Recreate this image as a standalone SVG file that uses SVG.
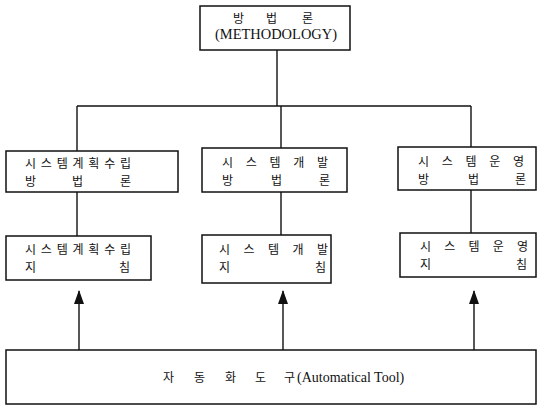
<svg xmlns="http://www.w3.org/2000/svg" width="543" height="409" viewBox="0 0 543 409">
<defs>
<style>
.box{fill:#fff;stroke:#111;stroke-width:1.5}
.ln{stroke:#111;stroke-width:1.4;fill:none}
.ko{font-family:"Noto Sans CJK KR",sans-serif;font-size:12px;fill:#111}
.en{font-family:"Liberation Serif",serif;font-size:14px;fill:#111}
</style>
<marker id="ah" viewBox="0 0 14 10" refX="13" refY="5" markerWidth="14" markerHeight="10" markerUnits="userSpaceOnUse" orient="auto">
<path d="M0,0 L14,5 L0,10 Z" fill="#111"/>
</marker>
</defs>
<rect width="543" height="409" fill="#fff"/>
<g id="connectors">
<line class="ln" x1="277" y1="50" x2="277" y2="106"/>
<line class="ln" x1="77" y1="106" x2="471" y2="106"/>
<line class="ln" x1="77" y1="106" x2="77" y2="151"/>
<line class="ln" x1="281" y1="106" x2="281" y2="148"/>
<line class="ln" x1="471" y1="106" x2="471" y2="147"/>
<line class="ln" x1="77" y1="192" x2="77" y2="236"/>
<line class="ln" x1="281" y1="192" x2="281" y2="235"/>
<line class="ln" x1="471" y1="190" x2="471" y2="233"/>
<path class="ln" d="M79,350 V291" marker-end="url(#ah)"/>
<path class="ln" d="M283,350 V291" marker-end="url(#ah)"/>
<path class="ln" d="M474,350 V291" marker-end="url(#ah)"/>
</g>
<g id="methodology">
<rect class="box" x="200" y="6" width="150" height="44"/>
<text class="ko" x="233" y="23" font-size="13">방</text>
<text class="ko" x="266" y="23" font-size="13">법</text>
<text class="ko" x="302" y="23" font-size="13">론</text>
<text class="en" x="215" y="39" textLength="122" lengthAdjust="spacingAndGlyphs">(METHODOLOGY)</text>
</g>
<g id="plan-method">
<rect class="box" x="6" y="151" width="172" height="41"/>
<text class="ko" x="25" y="168" textLength="106" lengthAdjust="spacing">시스템계획수립</text>
<text class="ko" x="25" y="186">방</text>
<text class="ko" x="72" y="186">법</text>
<text class="ko" x="120" y="186">론</text>
</g>
<g id="dev-method">
<rect class="box" x="202" y="148" width="145" height="44"/>
<text class="ko" x="222" y="167" textLength="106" lengthAdjust="spacing">시스템개발</text>
<text class="ko" x="222" y="185">방</text>
<text class="ko" x="271" y="185">법</text>
<text class="ko" x="319" y="185">론</text>
</g>
<g id="ops-method">
<rect class="box" x="398" y="147" width="138" height="43"/>
<text class="ko" x="418" y="166" textLength="106" lengthAdjust="spacing">시스템운영</text>
<text class="ko" x="418" y="184">방</text>
<text class="ko" x="468" y="184">법</text>
<text class="ko" x="515" y="184">론</text>
</g>
<g id="plan-guide">
<rect class="box" x="6" y="236" width="145" height="44"/>
<text class="ko" x="25" y="254" textLength="106" lengthAdjust="spacing">시스템계획수립</text>
<text class="ko" x="25" y="272">지</text>
<text class="ko" x="119" y="272">침</text>
</g>
<g id="dev-guide">
<rect class="box" x="202" y="235" width="129" height="48"/>
<text class="ko" x="219" y="254" textLength="109" lengthAdjust="spacing">시스템개발</text>
<text class="ko" x="219" y="272">지</text>
<text class="ko" x="315" y="272">침</text>
</g>
<g id="ops-guide">
<rect class="box" x="400" y="233" width="136" height="44"/>
<text class="ko" x="420" y="251" textLength="108" lengthAdjust="spacing">시스템운영</text>
<text class="ko" x="420" y="269">지</text>
<text class="ko" x="516" y="269">침</text>
</g>
<g id="auto-tool">
<rect class="box" x="6" y="350" width="530" height="54"/>
<text class="ko" x="163" y="382">자</text>
<text class="ko" x="194" y="382">동</text>
<text class="ko" x="225" y="382">화</text>
<text class="ko" x="255" y="382">도</text>
<text class="ko" x="284" y="382">구</text>
<text class="en" x="297" y="382" font-size="13">(Automatical Tool)</text>
</g>
</svg>
